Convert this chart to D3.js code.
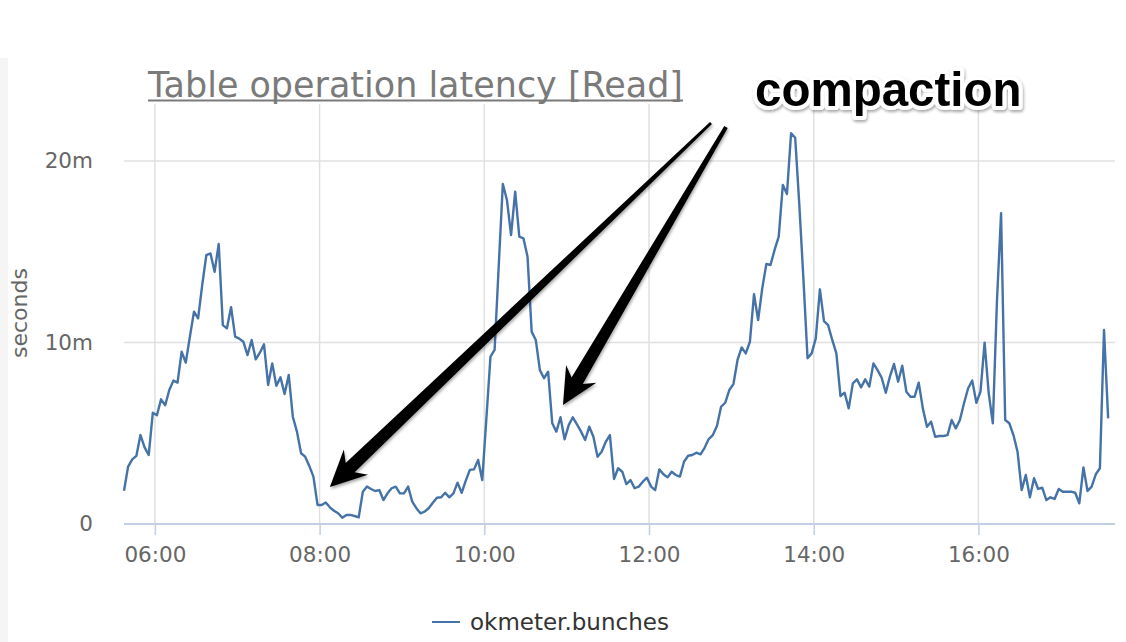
<!DOCTYPE html>
<html>
<head>
<meta charset="utf-8">
<script src="https://cdn.jsdelivr.net/npm/d3@7"></script>
<style>
  body { margin: 0; background: #fff; }
  svg { display: block; }
</style>
</head>
<body>
<div id="chart"></div>
<script>
// latency samples (ms), one every 3 minutes starting 05:37:30
const START = new Date(2017, 0, 1, 5, 37, 30);
const STEP_MIN = 3;
const latencyMs = [
  1.83, 3.16, 3.56, 3.75, 4.9, 4.22, 3.8, 6.13, 5.99, 6.87,
  6.54, 7.38, 7.9, 7.79, 9.49, 8.89, 10.32, 11.7, 11.33, 13.17,
  14.82, 14.91, 13.9, 15.43, 10.96, 10.78, 11.94, 10.32, 10.21, 10.04,
  9.31, 10.14, 9.07, 9.44, 9.9, 7.66, 8.85, 7.62, 8.08, 7.16,
  8.21, 5.91, 5.09, 3.9, 3.71, 3.2, 2.61, 1.05, 1.05, 1.19,
  0.92, 0.73, 0.59, 0.35, 0.5, 0.5, 0.44, 0.37, 1.78, 2.06,
  1.93, 1.82, 1.87, 1.32, 1.69, 1.97, 2.06, 1.69, 1.69, 2.06,
  1.23, 0.87, 0.59, 0.68, 0.87, 1.17, 1.45, 1.47, 1.72, 1.47,
  1.69, 2.28, 1.72, 2.39, 2.98, 3.01, 3.53, 2.42, 5.8, 9.22,
  9.59, 14.2, 18.73, 17.85, 15.92, 18.31, 15.83, 15.74, 14.73, 10.6,
  10.14, 8.48, 8.03, 8.39, 5.55, 5.09, 5.88, 4.67, 5.45, 5.88,
  5.49, 5.09, 4.63, 5.36, 4.81, 3.71, 3.98, 4.53, 4.9, 2.48,
  3.07, 2.88, 2.2, 2.42, 1.97, 2.06, 2.33, 2.55, 2.06, 1.87,
  3.01, 2.74, 2.57, 2.88, 2.7, 2.61, 3.43, 3.76, 3.8, 3.93,
  3.84, 4.2, 4.68, 4.9, 5.4, 6.46, 6.68, 7.38, 7.71, 9.04,
  9.73, 9.4, 10.04, 12.66, 11.24, 12.98, 14.33, 14.27, 15.1, 15.83,
  18.68, 18.18, 21.53, 21.28, 17.6, 13.5, 9.13, 9.4, 10.23, 12.93,
  11.18, 10.96, 10.14, 9.4, 7.05, 7.23, 6.37, 7.75, 7.97, 7.53,
  7.97, 7.57, 8.85, 8.48, 8.06, 7.23, 8.12, 8.82, 7.84, 8.72,
  7.29, 7.01, 7.01, 7.79, 6.37, 5.36, 5.64, 4.81, 4.85, 4.85,
  4.9, 5.73, 5.27, 5.73, 6.65, 7.48, 7.9, 6.68, 7.29, 9.99,
  7.2, 5.55, 12.3, 17.12, 5.73, 5.55, 4.9, 3.98, 1.87, 2.7,
  1.47, 2.52, 1.93, 2.0, 1.32, 1.47, 1.38, 1.93, 1.78, 1.78,
  1.78, 1.72, 1.14, 3.12, 1.82, 2.06, 2.74, 3.07, 10.69, 5.82
];
const yTicks = [0, 10, 20];
const xTickHours = [6, 8, 10, 12, 14, 16];
const seriesName = "okmeter.bunches";
const titleText = "Table operation latency [Read]";
const yLabel = "seconds";
const noteText = "compaction";
// arrow targets [hour, minute, second, value ms]
const arrowTargets = [[8, 7, 30, 2.04], [10, 57, 20, 6.56]];

const W = 1126, H = 642;
const PLOT = { LEFT: 124, RIGHT: 1115, TOP: 104, BOTTOM: 524 };

const data = latencyMs.map((v, i) => ({
  t: new Date(START.getTime() + i * STEP_MIN * 60000),
  v: v
}));
const at = (h, m, s) => new Date(2017, 0, 1, h, m, s || 0);

const svg = d3.select("#chart").append("svg")
  .attr("width", W).attr("height", H);

svg.append("rect").attr("x", 0).attr("y", 58).attr("width", 8).attr("height", H - 58)
  .attr("fill", "#f5f5f5");

const x = d3.scaleTime()
  .domain([at(5, 37, 30), at(17, 39, 30)])
  .range([PLOT.LEFT, PLOT.RIGHT]);
const y = d3.scaleLinear().domain([0, 20]).range([PLOT.BOTTOM, 161]);

const FONT = "'DejaVu Sans', Verdana, sans-serif";

// grid
const xTicks = xTickHours.map(h => at(h, 0));
svg.append("g").selectAll("line").data(xTicks).join("line")
  .attr("x1", d => x(d)).attr("x2", d => x(d))
  .attr("y1", PLOT.TOP).attr("y2", PLOT.BOTTOM)
  .attr("stroke", "#e0e0e0").attr("stroke-width", 1.5);
svg.append("g").selectAll("line").data(yTicks.filter(d => d > 0)).join("line")
  .attr("x1", PLOT.LEFT).attr("x2", PLOT.RIGHT)
  .attr("y1", d => y(d)).attr("y2", d => y(d))
  .attr("stroke", "#e0e0e0").attr("stroke-width", 1.5);

// x axis
const xAxis = svg.append("g").attr("transform", `translate(0,${PLOT.BOTTOM})`)
  .call(d3.axisBottom(x).tickValues(xTicks).tickFormat(d3.timeFormat("%H:%M")).tickSize(11).tickPadding(12));
xAxis.select(".domain").attr("d", `M${PLOT.LEFT},0H${PLOT.RIGHT}`).attr("stroke", "#c0d0e0").attr("stroke-width", 2);
xAxis.selectAll(".tick line").attr("stroke", "#c0d0e0").attr("stroke-width", 1.5);
xAxis.selectAll(".tick text").attr("font-family", FONT).attr("font-size", 21.5).attr("fill", "#666");

// y axis
const yAxis = svg.append("g").attr("transform", `translate(${PLOT.LEFT},0)`)
  .call(d3.axisLeft(y).tickValues(yTicks).tickFormat(d => d === 0 ? "0" : d + "m").tickSize(0).tickPadding(31));
yAxis.select(".domain").remove();
yAxis.selectAll(".tick text").attr("font-family", FONT).attr("font-size", 21.5).attr("fill", "#666");

svg.append("text")
  .attr("transform", `translate(27,313) rotate(-90)`)
  .attr("text-anchor", "middle")
  .attr("font-family", FONT).attr("font-size", 22).attr("fill", "#666")
  .text(yLabel);

// title
svg.append("text")
  .attr("x", 148).attr("y", 97)
  .attr("font-family", FONT).attr("font-size", 36).attr("fill", "#7a7a7a")
  .attr("textLength", 535).attr("lengthAdjust", "spacingAndGlyphs")
  .text(titleText);
svg.append("line").attr("x1", 148).attr("x2", 683).attr("y1", 100.5).attr("y2", 100.5)
  .attr("stroke", "#7a7a7a").attr("stroke-width", 2);

// series
const line = d3.line().x(d => x(d.t)).y(d => y(d.v));
svg.append("path").datum(data)
  .attr("d", line)
  .attr("fill", "none")
  .attr("stroke", "#4572a7")
  .attr("stroke-width", 2.4)
  .attr("stroke-linejoin", "round");

// legend
svg.append("line").attr("x1", 432).attr("x2", 460).attr("y1", 622).attr("y2", 622)
  .attr("stroke", "#4572a7").attr("stroke-width", 2);
svg.append("text").attr("x", 470).attr("y", 630)
  .attr("font-family", FONT).attr("font-size", 23).attr("fill", "#333")
  .text(seriesName);

// annotation
const defs = svg.append("defs");
const f = defs.append("filter").attr("id", "shadow").attr("x", "-20%").attr("y", "-20%")
  .attr("width", "140%").attr("height", "140%");
f.append("feDropShadow").attr("dx", 1).attr("dy", 2).attr("stdDeviation", 1.5)
  .attr("flood-color", "#000").attr("flood-opacity", 0.35);

const tails = [[711, 123], [726, 127]];
const tailHalf = [1.4, 2];
arrowTargets.forEach((tg, i) => {
  const tip = [x(at(tg[0], tg[1], tg[2])), y(tg[3])];
  const tail = tails[i];
  const dx = tail[0] - tip[0], dy = tail[1] - tip[1];
  const len = Math.hypot(dx, dy);
  const u = [dx / len, dy / len], n = [-u[1], u[0]];
  const p = (a, b) => [tip[0] + u[0] * a + n[0] * b, tip[1] + u[1] * a + n[1] * b];
  const headLen = 36, notch = 28, headHalf = 17.5, shaftHalf = 6.5;
  const pts = [
    tip, p(headLen, headHalf), p(notch, shaftHalf),
    [tail[0] + n[0] * tailHalf[i], tail[1] + n[1] * tailHalf[i]],
    [tail[0] - n[0] * tailHalf[i], tail[1] - n[1] * tailHalf[i]],
    p(notch, -shaftHalf), p(headLen, -headHalf)
  ];
  svg.append("path")
    .attr("d", "M" + pts.map(q => q.join(",")).join("L") + "Z")
    .attr("fill", "#000")
    .attr("filter", "url(#shadow)");
});

svg.append("text")
  .attr("x", 755).attr("y", 106)
  .attr("font-family", "'Liberation Sans', Arial, sans-serif")
  .attr("font-weight", "bold").attr("font-size", 47.5)
  .attr("fill", "#000")
  .attr("stroke", "#fff").attr("stroke-width", 8).attr("stroke-linejoin", "round")
  .attr("paint-order", "stroke")
  .attr("filter", "url(#shadow)")
  .text(noteText);
</script>
</body>
</html>
